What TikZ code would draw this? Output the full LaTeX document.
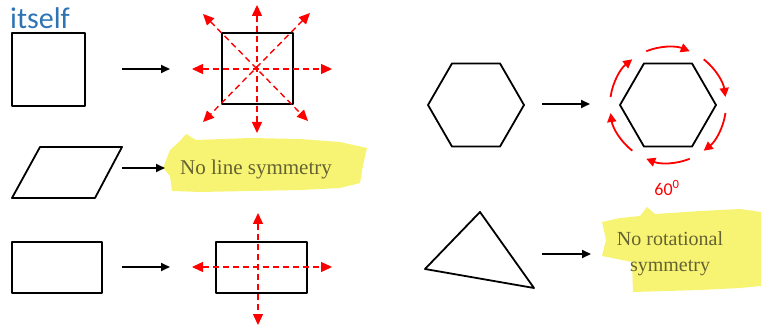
\documentclass[tikz,border=0pt]{standalone}
\usepackage{fontspec}
\setmainfont{Liberation Serif}
\newfontfamily\calibri{Carlito}
\usetikzlibrary{arrows.meta}
\definecolor{tituloazul}{RGB}{46,116,181}
\definecolor{marcador}{RGB}{248,244,115}
\definecolor{textoolivo}{RGB}{100,98,50}
\definecolor{rojoeje}{RGB}{225,25,45}

\begin{document}
\begin{tikzpicture}[
    x=1pt, y=-1pt, line join=round,
    >={Triangle[length=9pt,width=8pt]},
    figura/.style={black,line width=1.8pt},
    flecha/.style={->,black,line width=1.8pt},
    eje/.style={{Triangle[length=11pt,width=10pt]}-{Triangle[length=11pt,width=10pt]},
        red,line width=1.4pt,dash pattern=on 6pt off 4pt},
    giro/.style={-{Triangle[length=9pt,width=9pt]},red,line width=1.8pt},
    nota/.style={textoolivo,font=\fontsize{20}{26}\selectfont,align=center},
    every node/.style={inner sep=0pt}]
    \useasboundingbox (0,0) rectangle (761,326);

    % Marcadores amarillos.
    \fill[marcador] (163,168) -- (170,150) -- (180,141) -- (186,134) -- (196,140)
        -- (250,138) -- (300,139) -- (340,142) -- (367,148) -- (363,165)
        -- (360,183) -- (340,188) -- (300,190) -- (250,191) -- (200,192)
        -- (172,191) -- (170,176) -- cycle;
    \fill[marcador] (602,222) -- (620,218) -- (640,216) -- (647,207) -- (655,214)
        -- (700,211) -- (740,209) -- (761,212) -- (761,286) -- (740,288)
        -- (700,290) -- (633,292) -- (632,262) -- (612,258) -- (602,256)
        -- (606,240) -- cycle;

    % Titulo recortado.
    \node[anchor=base west,tituloazul,font=\calibri\fontsize{30}{30}\selectfont]
        (titulo) at (10,29) {itself};

    % Cuadrado: cuatro ejes de simetria.
    \draw[figura] (12,33) rectangle (85,106);
    \coordinate (a1) at (122,69); \coordinate (b1) at (170,69);
    \draw[flecha] (a1) -- (b1);
    \draw[figura] (222,33) rectangle (293,104);
    \coordinate (ej1) at (192,69);  \coordinate (ej2) at (332,69);
    \coordinate (ej3) at (257,5);   \coordinate (ej4) at (257,133);
    \coordinate (ej5) at (203,14);  \coordinate (ej6) at (308,121);
    \coordinate (ej7) at (310,13);  \coordinate (ej8) at (203,122);
    \draw[eje] (ej1) -- (ej2);
    \draw[eje] (ej3) -- (ej4);
    \draw[eje] (ej5) -- (ej6);
    \draw[eje] (ej7) -- (ej8);

    % Paralelogramo.
    \draw[figura] (12,198) -- (40,147) -- (122,147) -- (95,198) -- cycle;
    \coordinate (a2) at (122,168); \coordinate (b2) at (165,168);
    \draw[flecha] (a2) -- (b2);
    \node[nota,anchor=base west,font=\fontsize{21}{26}\selectfont]
        (sinlinea) at (180,175) {No line symmetry};

    % Rectangulo: dos ejes de simetria.
    \draw[figura] (12,242) rectangle (102,293);
    \coordinate (a3) at (122,267); \coordinate (b3) at (170,267);
    \draw[flecha] (a3) -- (b3);
    \draw[figura] (216,242) rectangle (307,293);
    \coordinate (er1) at (192,267); \coordinate (er2) at (332,267);
    \coordinate (er3) at (258,213); \coordinate (er4) at (258,325);
    \draw[eje] (er1) -- (er2);
    \draw[eje] (er3) -- (er4);

    % Hexagono: giro de 60 grados.
    \draw[figura] (476,105) +(0:48) -- +(60:48) -- +(120:48) -- +(180:48)
        -- +(240:48) -- +(300:48) -- cycle;
    \coordinate (a4) at (542,104); \coordinate (b4) at (590,104);
    \draw[flecha] (a4) -- (b4);
    \coordinate (hx) at (668,105);
    \draw[figura] (hx) +(0:48) -- +(60:48) -- +(120:48) -- +(180:48)
        -- +(240:48) -- +(300:48) -- cycle;
    \foreach \c in {-90,-30,30,90,150,210}
        \draw[giro] (hx) ++(\c-22:58) arc[start angle=\c-22,
            end angle=\c+22,radius=58];
    \node[red,font=\calibri\fontsize{18}{18}\selectfont] (grados) at (667,188)
        {60\textsuperscript{0}};

    % Triangulo sin simetria de rotacion.
    \draw[figura] (480,212) -- (425,269) -- (534,288) -- cycle;
    \coordinate (a5) at (542,254); \coordinate (b5) at (591,254);
    \draw[flecha] (a5) -- (b5);
    \node[nota,anchor=north] (sinrotacion) at (670,231)
        {No rotational\\symmetry};
\end{tikzpicture}
\end{document}
